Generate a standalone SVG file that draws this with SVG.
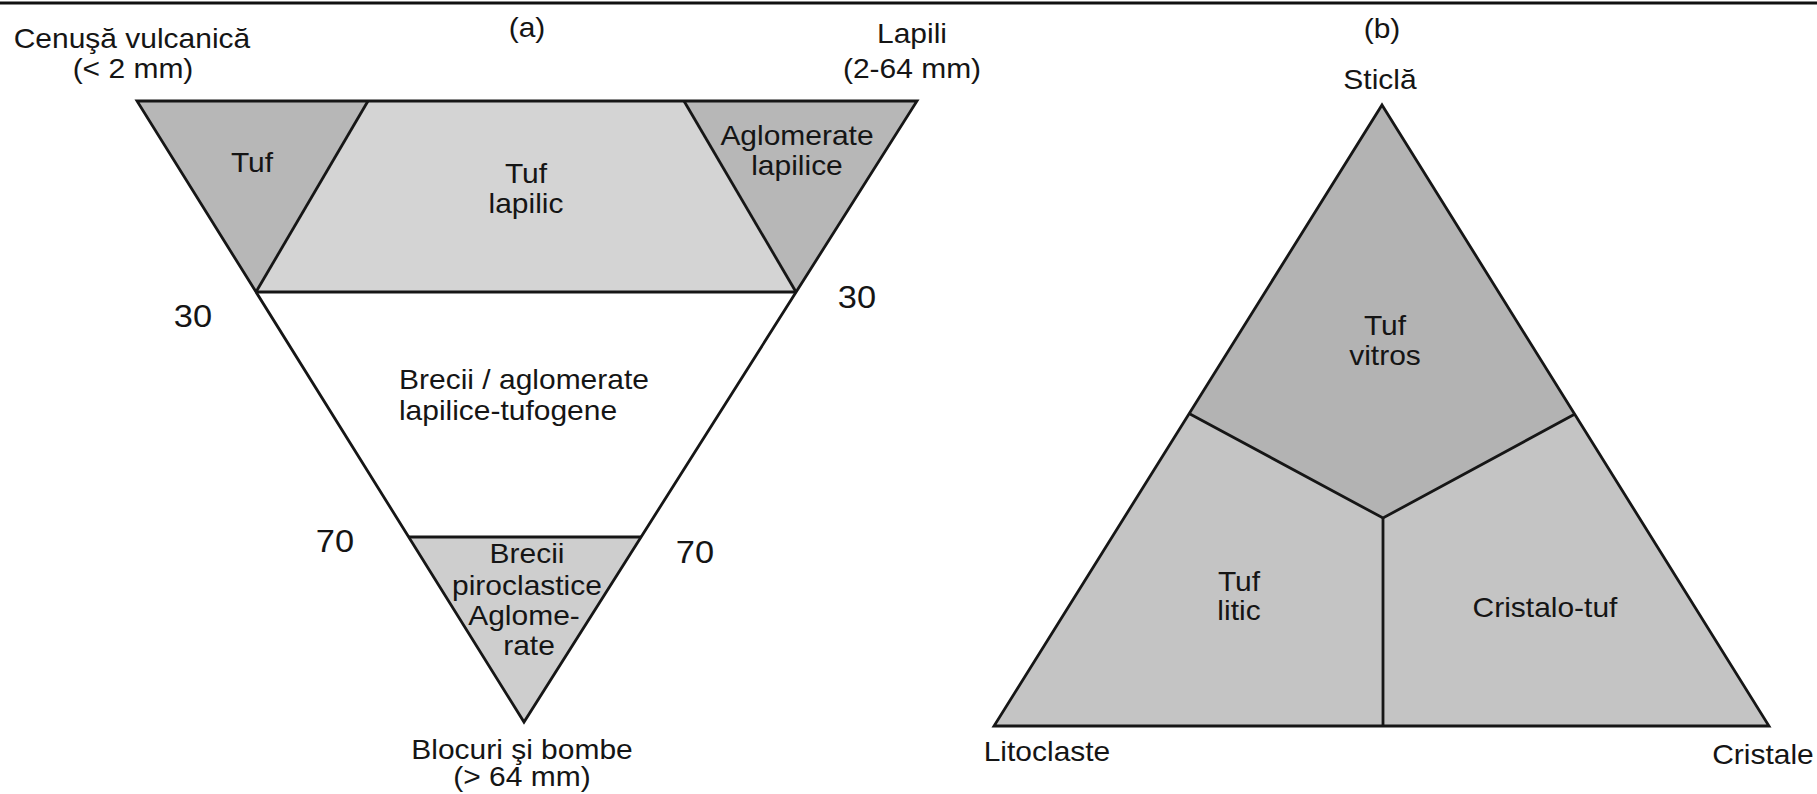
<svg xmlns="http://www.w3.org/2000/svg" width="1817" height="794" viewBox="0 0 1817 794">
<style>
text { font-family: "Liberation Sans", Arial, sans-serif; font-size: 27px; fill: #151515; text-anchor: middle; transform-box: fill-box; transform-origin: center; transform: scaleX(1.11); }
text.num { font-size: 31px; }
.dark { fill: #b7b7b7; }
.light { fill: #d4d4d4; }
.mid { fill: #cecece; }
.btop { fill: #b3b3b3; }
.blow { fill: #c4c4c4; }
.edge { fill: none; stroke: #161616; stroke-width: 2.8; stroke-linejoin: miter; }
</style>
<rect width="1817" height="794" fill="#ffffff"/>
<line x1="0" y1="3" x2="1817" y2="3" stroke="#111" stroke-width="3"/>

<g id="diagram-a">
  <text x="527" y="37">(a)</text>
  <g id="corner-cenusa">
    <text x="132" y="48">Cenuşă vulcanică</text>
    <text x="133" y="78">(&lt; 2 mm)</text>
  </g>
  <g id="corner-lapili">
    <text x="912" y="43">Lapili</text>
    <text x="912" y="78">(2-64 mm)</text>
  </g>
  <g id="corner-blocuri">
    <text x="522" y="759">Blocuri şi bombe</text>
    <text x="522" y="786">(&gt; 64 mm)</text>
  </g>
  <g id="region-tuf">
    <polygon class="dark" points="137,101 368,101 256,292"/>
    <text x="252" y="172">Tuf</text>
  </g>
  <g id="region-tuf-lapilic">
    <polygon class="light" points="368,101 684,101 796,292 256,292"/>
    <text x="526" y="183">Tuf</text>
    <text x="526" y="213">lapilic</text>
  </g>
  <g id="region-aglomerate-lapilice">
    <polygon class="dark" points="684,101 917,101 796,292"/>
    <text x="797" y="145">Aglomerate</text>
    <text x="797" y="175">lapilice</text>
  </g>
  <g id="region-brecii-aglomerate">
    <text x="524" y="389">Brecii / aglomerate</text>
    <text x="508" y="420">lapilice-tufogene</text>
  </g>
  <g id="region-brecii-piroclastice">
    <polygon class="mid" points="409,537 641,537 524,722"/>
    <text x="527" y="563">Brecii</text>
    <text x="527" y="595">piroclastice</text>
    <text x="524" y="625">Aglome-</text>
    <text x="529" y="655">rate</text>
  </g>
  <g id="labels-a">
    <text class="num" x="193" y="327">30</text>
    <text class="num" x="857" y="308">30</text>
    <text class="num" x="335" y="552">70</text>
    <text class="num" x="695" y="563">70</text>
  </g>
</g>

<g id="diagram-b">
  <text x="1382" y="38">(b)</text>
  <text x="1380" y="89">Sticlă</text>
  <text x="1047" y="761">Litoclaste</text>
  <text x="1763" y="764">Cristale</text>
  <g id="region-tuf-vitros">
    <polygon class="btop" points="1382,105 1575,414 1383,518 1190,414"/>
    <text x="1385" y="335">Tuf</text>
    <text x="1385" y="365">vitros</text>
  </g>
  <g id="region-tuf-litic">
    <polygon class="blow" points="1190,414 1383,518 1383,726 994,726"/>
    <text x="1239" y="591">Tuf</text>
    <text x="1239" y="620">litic</text>
  </g>
  <g id="region-cristalo-tuf">
    <polygon class="blow" points="1575,414 1769,726 1383,726 1383,518"/>
    <text x="1545" y="617">Cristalo-tuf</text>
  </g>
</g>

<g id="connectors">
  <polygon class="edge" points="137,101 917,101 524,722"/>
  <line class="edge" x1="368" y1="101" x2="256" y2="292"/>
  <line class="edge" x1="684" y1="101" x2="796" y2="292"/>
  <line class="edge" x1="256" y1="292" x2="796" y2="292"/>
  <line class="edge" x1="409" y1="537" x2="641" y2="537"/>
  <polygon class="edge" points="1382,105 1769,726 994,726"/>
  <polyline class="edge" points="1190,414 1383,518 1575,414"/>
  <line class="edge" x1="1383" y1="518" x2="1383" y2="726"/>
</g>
</svg>
